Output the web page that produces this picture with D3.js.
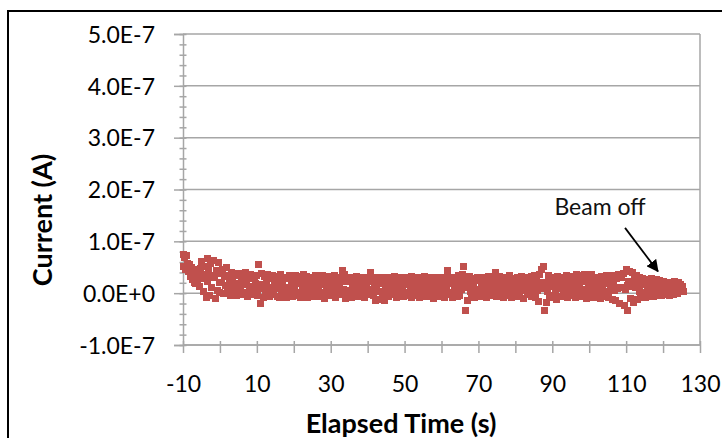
<!DOCTYPE html>
<html>
<head>
<meta charset="utf-8">
<script src="https://cdn.jsdelivr.net/npm/d3@7"></script>
<style>
  html, body { margin: 0; padding: 0; background: #fff; }
  svg { display: block; }
  text { font-family: Lato, "Noto Sans", sans-serif; }
</style>
</head>
<body>
<svg id="chart" width="722" height="438"></svg>
<script>
// Beam current readings, in units of 1e-8 A, one every 0.25 s starting at t = -10 s
const sampleStart = -10;
const sampleStep = 0.25;
const currentE8 = [
  7.5, 5.2, 6.8, 4.6, 7.2, 5.8, 4.1, 5.5, 3.2, 4.9, 2.7, 4.3, 2.1, 3.6, 1.9, 4.6, 2.4, 3.5, 1.2, 4.8,
  6.2, 2.8, 0.4, 5.1, 3.6, -0.8, 6.6, 2.3, 4.4, -0.5, 5.8, 1.1, 3.4, 6.3, 3.0, -1.0, 4.4, 0.6, 5.9, 2.0,
  0.2, 3.8, 2.1, 4.6, -0.1, 3.2, 1.5, 4.9, 0.7, 3.5, 2.4, -0.4, 3.9, 1.0, 3.0, 0.3, 3.7, 1.8, -0.5, 3.4,
  1.2, 3.8, 0.4, 2.6, -0.3, 3.5, 1.7, 0.1, 3.9, 2.2, -0.6, 3.1, 1.3, 3.6, 0.5, 2.8, -0.2, 3.3, 1.9, 0.8,
  3.4, -0.4, 5.6, 0.9, -2.0, 3.7, 1.6, -0.8, 3.2, 0.4, 2.5, -0.5, 3.6, 1.1, -0.7, 2.9, 0.6, 3.5, -0.3, 2.2,
  0.9, 3.3, -0.6, 2.7, 1.4, -0.9, 3.6, 0.3, 2.4, -0.4, 3.1, 1.0, -0.8, 2.8, 0.5, 3.4, -0.2, 1.8, 3.0, -0.7,
  2.5, 0.8, 3.5, -0.5, 1.9, 3.2, 0.1, -0.9, 2.9, 1.2, 3.6, -0.3, 2.1, 0.6, 3.3, -0.8, 2.6, 1.5, -0.4, 3.0,
  0.4, 2.7, -0.7, 3.4, 1.3, -0.2, 2.4, 0.9, 3.1, -0.6, 1.7, 3.5, 0.2, -1.0, 2.8, 1.0, 3.2, -0.3, 2.0, 0.7,
  3.0, -0.5, 2.3, 1.1, 3.4, -0.8, 0.5, 2.6, -0.2, 3.1, 1.4, 0.0, 2.5, 4.3, 0.8, 3.6, -1.1, 2.2, 0.3, 2.9,
  0.6, 2.7, -0.9, 3.0, 1.2, -0.3, 2.5, 0.4, 3.2, -0.6, 1.8, 0.9, 2.9, -0.4, 1.5, 3.1, 0.2, -0.8, 2.6, 1.0,
  3.0, -0.2, 2.2, 4.0, 0.7, 2.8, -0.5, 1.6, -1.4, 3.1, 0.5, 2.4, -1.2, 1.9, 0.3, 3.0, -0.7, 2.1, -1.5, 1.3,
  2.7, 0.1, 3.1, -0.6, 1.8, 0.8, 2.9, -0.3, 1.4, 3.2, 0.4, -0.9, 2.3, 1.1, 2.8, -0.4, 0.6, 3.0, 1.5, -0.7,
  2.4, 0.2, 3.1, -0.5, 1.6, 2.6, 0.7, -0.8, 3.3, 1.2, 0.0, 2.7, -0.4, 1.9, 3.0, 0.5, -0.9, 2.2, 1.0, 2.8,
  -0.3, 1.5, 3.2, 0.3, -0.7, 2.5, 1.1, 3.0, -0.5, 0.9, 2.6, -1.0, 1.7, 3.1, 0.4, 2.1, -0.6, 2.9, 0.8, 1.6,
  -0.4, 3.0, 1.2, -0.8, 2.7, 0.5, 3.3, 4.3, -0.3, 1.9, 2.8, 0.1, -0.9, 3.1, 1.4, 0.6, 2.5, -0.6, 3.4, 1.0,
  -0.5, 2.3, 0.7, 3.6, 5.2, 1.8, -3.4, 2.4, -1.5, 1.0, 3.2, 0.4, 1.7, -0.2, 2.9, 1.1, -0.8, 2.4, 0.3, 3.0,
  0.8, -0.6, 2.6, 1.3, 3.1, -0.3, 1.9, 0.5, 2.8, -0.9, 1.4, 3.2, 0.2, 2.2, -0.5, 3.0, 1.0, 2.5, 3.9, 0.4,
  -0.7, 2.7, 1.5, 3.3, -0.2, 0.9, 2.4, -0.8, 3.0, 1.2, 0.1, 2.9, -0.5, 1.7, 3.4, 0.6, -0.9, 2.3, 1.1, 2.8,
  0.3, -0.6, 3.1, 1.6, 2.4, -0.4, 0.8, 3.2, 1.9, -1.0, 2.6, 0.5, 3.0, -0.3, 1.3, 2.7, 0.0, 3.3, -0.7, 2.1,
  1.0, 3.4, -0.8, 2.5, 0.6, -1.6, 3.6, 1.4, 4.6, 0.9, 5.2, 2.0, -3.3, 1.2, -1.8, 0.4, 3.5, -0.9, 2.0, 1.2,
  3.0, -0.5, 1.7, 2.6, 0.2, -1.2, 3.3, 0.9, 2.2, -0.6, 3.1, 1.5, -0.3, 2.7, 0.7, 3.4, -0.9, 1.9, 0.4, 2.9,
  -0.4, 1.3, 3.2, 0.6, 2.5, -0.8, 3.6, 1.0, -0.2, 2.8, 1.6, 3.5, -0.6, 0.8, 2.3, 3.6, 0.1, -1.1, 2.7, 1.4,
  3.3, -0.5, 1.9, 3.6, 0.5, -0.9, 2.6, 1.2, 3.0, -0.3, 0.7, 2.4, -1.0, 3.2, 1.5, 0.2, 2.8, -0.6, 1.8, 3.4,
  0.4, -0.8, 2.7, 1.3, 3.5, -1.3, 2.1, 0.6, 3.3, -1.5, 2.9, 0.9, 3.6, -1.9, 1.0, 3.0, 1.1, 3.8, -2.4, 0.8,
  4.5, 1.5, -3.3, 2.2, 4.1, -1.0, 1.2, 3.9, -1.8, 2.6, 1.0, 3.4, -1.2, 2.2, 0.4, 3.1, -0.9, 1.7, 2.9, 0.1,
  2.4, -0.8, 2.7, 1.2, 0.2, 2.5, -0.6, 1.6, 2.8, 0.4, -0.7, 2.3, 1.0, 2.6, -0.5, 0.8, 2.4, 1.5, -0.4, 2.2,
  0.6, 2.3, -0.3, 1.4, 2.1, 0.3, 1.8, -0.4, 2.0, 0.9, 1.5, -0.2, 2.2, 0.7, 1.3, 1.9, -0.1, 2.1, 0.5, 1.6,
  0.8, 1.2, 0.3
];

// Axis ticks and labels
const xTicks = [-10, 0, 10, 20, 30, 40, 50, 60, 70, 80, 90, 100, 110, 120, 130];
const xTickLabels = ["-10", "", "10", "", "30", "", "50", "", "70", "", "90", "", "110", "", "130"];
const yTicks = [-1e-7, 0, 1e-7, 2e-7, 3e-7, 4e-7, 5e-7];
const yTickLabels = ["-1.0E-7", "0.0E+0", "1.0E-7", "2.0E-7", "3.0E-7", "4.0E-7", "5.0E-7"];
const yMinor = [];
for (let k = -5; k <= 25; k++) yMinor.push(k * 2e-8); // minor ticks every 2e-8 A

const xTitle = "Elapsed Time (s)";
const yTitle = "Current (A)";
const noteText = "Beam off";
const noteFrom = [109.7, 1.26e-7];
const noteTo = [118.6, 0.42e-7];

const points = currentE8.map((v, i) => ({ t: sampleStart + i * sampleStep, a: v * 1e-8 }));

const svg = d3.select("#chart");
const plot = { left: 183, right: 700, top: 34, bottom: 345 };

const x = d3.scaleLinear().domain([-10, 130]).range([plot.left, plot.right]);
const y = d3.scaleLinear().domain([-1e-7, 5e-7]).range([plot.bottom, plot.top]);

const gridColor = "#a6a6a6";

// Chart frame
svg.append("rect")
  .attr("x", 8).attr("y", 11).attr("width", 760).attr("height", 460)
  .attr("fill", "none").attr("stroke", "#000").attr("stroke-width", 2);

// Horizontal gridlines
svg.append("g")
  .selectAll("line")
  .data(yTicks)
  .join("line")
  .attr("x1", plot.left).attr("x2", plot.right)
  .attr("y1", d => y(d)).attr("y2", d => y(d))
  .attr("stroke", gridColor).attr("stroke-width", 1.5);

// Right edge of the plot area
svg.append("line")
  .attr("x1", plot.right).attr("x2", plot.right)
  .attr("y1", plot.top).attr("y2", plot.bottom)
  .attr("stroke", gridColor).attr("stroke-width", 1.5);

// Y axis: major ticks with labels
const yAxis = svg.append("g")
  .attr("transform", `translate(${plot.left},0)`)
  .call(d3.axisLeft(y).tickValues(yTicks)
    .tickFormat((d, i) => yTickLabels[i])
    .tickSize(9).tickPadding(19));
yAxis.select(".domain").attr("stroke", gridColor).attr("stroke-width", 1.5);
yAxis.selectAll(".tick line").attr("stroke", gridColor).attr("stroke-width", 1.5);
yAxis.selectAll(".tick text")
  .attr("fill", "#000").attr("font-size", 23).attr("dy", "0.36em")
  .style("font-family", "Lato, sans-serif");

// Y axis: minor ticks crossing the axis
const yMinorAxis = svg.append("g")
  .attr("transform", `translate(${plot.left + 3.5},0)`)
  .call(d3.axisLeft(y).tickValues(yMinor).tickFormat("").tickSize(7));
yMinorAxis.select(".domain").remove();
yMinorAxis.selectAll(".tick line").attr("stroke", gridColor).attr("stroke-width", 1.5);

// X axis
const xAxis = svg.append("g")
  .attr("transform", `translate(0,${plot.bottom - 4})`)
  .call(d3.axisBottom(x).tickValues(xTicks)
    .tickFormat((d, i) => xTickLabels[i])
    .tickSize(12).tickPadding(0));
xAxis.select(".domain").remove();
xAxis.selectAll(".tick line").attr("stroke", gridColor).attr("stroke-width", 1.5);
xAxis.selectAll(".tick text")
  .attr("fill", "#000").attr("font-size", 23)
  .attr("y", 51).attr("dy", 0)
  .style("font-family", "Lato, sans-serif");
svg.append("line")
  .attr("x1", plot.left).attr("x2", plot.right)
  .attr("y1", plot.bottom).attr("y2", plot.bottom)
  .attr("stroke", gridColor).attr("stroke-width", 1.5);

// Data markers: square markers snapped to whole pixels so neighbours merge cleanly
const ms = 7;
svg.append("g")
  .attr("shape-rendering", "crispEdges")
  .selectAll("rect")
  .data(points)
  .join("rect")
  .attr("x", d => Math.round(x(d.t) - ms / 2))
  .attr("y", d => Math.round(y(d.a) - ms / 2))
  .attr("width", ms).attr("height", ms)
  .attr("fill", "#c0504d");

// Axis titles
svg.append("text")
  .attr("x", 401).attr("y", 433)
  .attr("text-anchor", "middle")
  .attr("font-size", 27).attr("font-weight", 700)
  .attr("fill", "#000")
  .text(xTitle);

svg.append("text")
  .attr("transform", "translate(52,220) rotate(-90)")
  .attr("text-anchor", "middle")
  .attr("font-size", 27).attr("font-weight", 700)
  .attr("fill", "#000")
  .text(yTitle);

// Annotation
svg.append("text")
  .attr("x", 600).attr("y", 215)
  .attr("text-anchor", "middle")
  .attr("font-size", 23)
  .attr("fill", "#111")
  .text(noteText);

svg.append("defs").append("marker")
  .attr("id", "arrowHead")
  .attr("viewBox", "0 0 10 10")
  .attr("refX", 9).attr("refY", 5)
  .attr("markerWidth", 7).attr("markerHeight", 7)
  .attr("markerUnits", "strokeWidth")
  .attr("orient", "auto")
  .append("path").attr("d", "M0,0 L10,5 L0,10 Z").attr("fill", "#000");

svg.append("line")
  .attr("x1", x(noteFrom[0])).attr("y1", y(noteFrom[1]))
  .attr("x2", x(noteTo[0])).attr("y2", y(noteTo[1]))
  .attr("stroke", "#000").attr("stroke-width", 1.75)
  .attr("marker-end", "url(#arrowHead)");
</script>
</body>
</html>
